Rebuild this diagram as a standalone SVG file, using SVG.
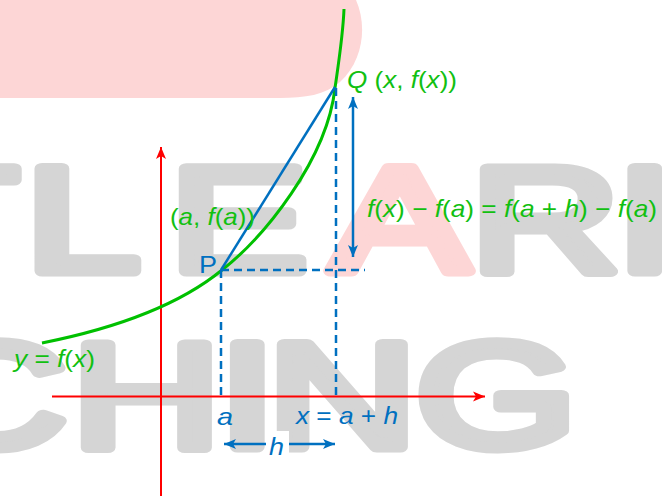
<svg xmlns="http://www.w3.org/2000/svg" width="662" height="496" viewBox="0 0 662 496">
  <style>
    .wm { font-family: "Liberation Sans", Arial, sans-serif; font-weight: normal; font-size: 148px; fill: #d5d5d5; stroke: #d5d5d5; stroke-width: 11; stroke-linejoin: round; stroke-linecap: round; }
    .wmp { fill: #fdd6d6; stroke: #fdd6d6; }
    .lbl { font-family: "Liberation Sans", Arial, sans-serif; font-size: 24px; }
    .g { fill: #11c011; }
    .b { fill: #0070c0; }
    .i { font-style: italic; }
    .axis { stroke: #ff0000; stroke-width: 2; fill: none; }
    .curve { stroke: #00c000; stroke-width: 3; fill: none; }
    .sec { stroke: #0070c0; stroke-width: 2.5; fill: none; }
    .dash { stroke: #0070c0; stroke-width: 2.5; fill: none; stroke-dasharray: 8 5; }
  </style>
  <defs>
    <marker id="arrR" markerUnits="userSpaceOnUse" markerWidth="14" markerHeight="12" refX="12" refY="6" orient="auto-start-reverse">
      <path d="M0,1 L12,6 L0,11 L3,6 Z" fill="#ff0000"/>
    </marker>
    <marker id="arrB" markerUnits="userSpaceOnUse" markerWidth="14" markerHeight="12" refX="12" refY="6" orient="auto-start-reverse">
      <path d="M0,1 L12,6 L0,11 L3,6 Z" fill="#0070c0"/>
    </marker>
  </defs>

  <rect width="662" height="496" fill="#ffffff"/>

  <!-- watermark -->
  <g id="watermark">
    <path d="M0,0 H356 C367,25 364,60 340,82 C325,95 305,98 280,98 H0 Z" fill="#fdd6d6"/>
    <g transform="matrix(1.4,0,0,1,0,0)">
      <text class="wm" x="-77" y="271">T</text>
      <text class="wm" x="18" y="271">L</text>
      <text class="wm" x="121" y="271">E</text>
      <text class="wm wmp" x="236" y="271">A</text>
      <text class="wm" x="336" y="271">R</text>
      <text class="wm" x="440" y="271">I</text>
      <text class="wm" x="-59" y="447">C</text>
      <text class="wm" x="51" y="447">H</text>
      <text class="wm" x="156" y="447">I</text>
      <text class="wm" x="191" y="447">N</text>
      <text class="wm" x="297" y="447">G</text>
    </g>
  </g>

  <!-- connectors -->
  <g id="connectors">
    <line class="axis" x1="161" y1="496" x2="161" y2="147" marker-end="url(#arrR)"/>
    <line class="axis" x1="52" y1="396.5" x2="485" y2="396.5" marker-end="url(#arrR)"/>
    <path id="curve" class="curve" d="M42,343 C102,331 172,311 222,270 C264,237 327,160 335,88 C339,60 343,35 344,9"/>
    <line class="sec" x1="221" y1="270" x2="335" y2="87"/>
    <line class="dash" x1="336" y1="88" x2="336" y2="395"/>
    <line class="dash" x1="221" y1="270" x2="221" y2="395"/>
    <line class="dash" x1="221" y1="270" x2="365" y2="270"/>
    <line class="sec" x1="353" y1="97" x2="353" y2="257" marker-start="url(#arrB)" marker-end="url(#arrB)"/>
    <line class="sec" x1="224" y1="444" x2="335" y2="444" marker-start="url(#arrB)" marker-end="url(#arrB)"/>
  </g>

  <!-- nodes / labels -->
  <g id="node-Q">
    <text class="lbl g" x="347" y="88" textLength="110" lengthAdjust="spacingAndGlyphs"><tspan class="i">Q</tspan> (<tspan class="i">x</tspan>, <tspan class="i">f</tspan>(<tspan class="i">x</tspan>))</text>
  </g>
  <g id="node-P">
    <text class="lbl b" x="199" y="273" font-size="23" textLength="18" lengthAdjust="spacingAndGlyphs">P</text>
    <text class="lbl g" x="170" y="225" textLength="85" lengthAdjust="spacingAndGlyphs">(<tspan class="i">a</tspan>, <tspan class="i">f</tspan>(<tspan class="i">a</tspan>))</text>
  </g>
  <g id="node-diff">
    <text class="lbl g" x="367" y="217" font-size="25" textLength="290" lengthAdjust="spacingAndGlyphs"><tspan class="i">f</tspan>(<tspan class="i">x</tspan>) − <tspan class="i">f</tspan>(<tspan class="i">a</tspan>) = <tspan class="i">f</tspan>(<tspan class="i">a</tspan> + <tspan class="i">h</tspan>) − <tspan class="i">f</tspan>(<tspan class="i">a</tspan>)</text>
  </g>
  <g id="node-fx">
    <text class="lbl g" x="14" y="367" textLength="81" lengthAdjust="spacingAndGlyphs"><tspan class="i">y</tspan> = <tspan class="i">f</tspan>(<tspan class="i">x</tspan>)</text>
  </g>
  <g id="node-a">
    <text class="lbl b i" x="217" y="425" font-size="25" textLength="16" lengthAdjust="spacingAndGlyphs">a</text>
  </g>
  <g id="node-x">
    <text class="lbl b" x="296" y="424" font-size="25" textLength="102" lengthAdjust="spacingAndGlyphs"><tspan class="i">x</tspan> = <tspan class="i">a</tspan> + <tspan class="i">h</tspan></text>
  </g>
  <g id="node-h">
    <rect x="266" y="431" width="23" height="27" fill="#ffffff"/>
    <text class="lbl b i" x="269" y="455" font-size="26" textLength="15" lengthAdjust="spacingAndGlyphs">h</text>
  </g>
</svg>
